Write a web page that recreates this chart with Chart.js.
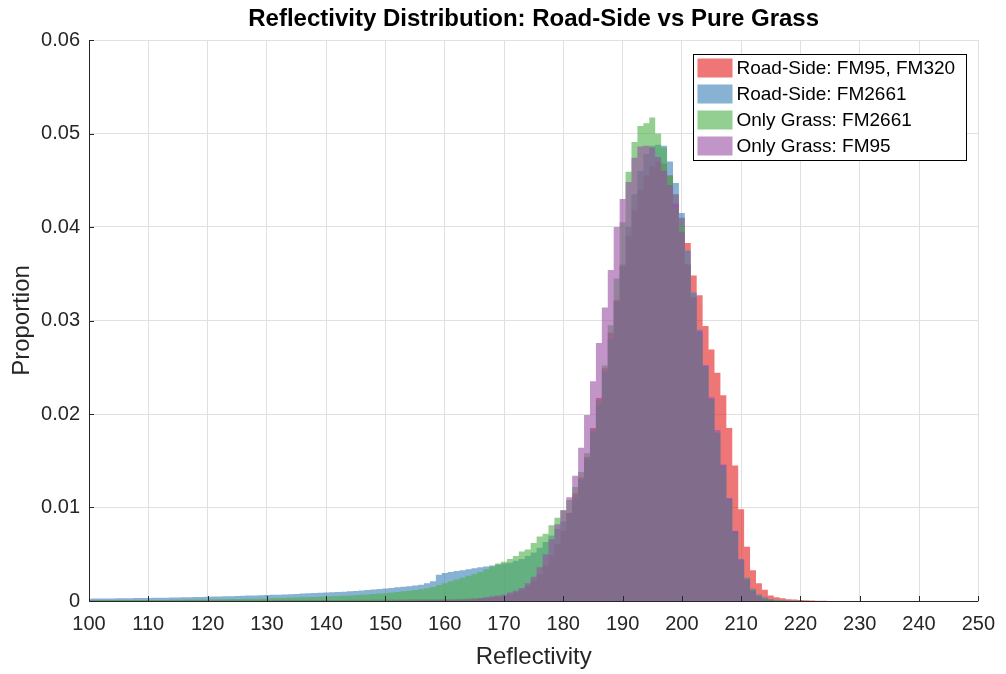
<!DOCTYPE html>
<html>
<head>
<meta charset="utf-8">
<title>Reflectivity Distribution</title>
<script src="https://cdn.jsdelivr.net/npm/chart.js@4.4.1/dist/chart.umd.min.js"></script>
<style>
  html, body { margin: 0; padding: 0; background: #fff; }
  #wrap { width: 1006px; height: 674px; position: relative; }
</style>
</head>
<body>
<div id="wrap"><canvas id="chart"></canvas></div>
<script>
// histogram bins are 1 unit wide, first bin centred on 100
const binStart = 100;

const roadSideFM95FM320 = [
  0.00005, 0.00005, 0.00005, 0.00005, 0.00005, 0.00005, 0.00005, 0.00005, 0.00005, 0.00005,
  0.00006, 0.00006, 0.00006, 0.00006, 0.00006, 0.00006, 0.00007, 0.00007, 0.00007, 0.00007,
  0.00007, 0.00007, 0.00008, 0.00008, 0.00008, 0.00008, 0.00008, 0.00009, 0.00009, 0.00009,
  0.00009, 0.00009, 0.0001, 0.0001, 0.0001, 0.0001, 0.0001, 0.0001, 0.0001, 0.0001,
  0.00011, 0.00011, 0.00012, 0.00012, 0.00013, 0.00013, 0.00014, 0.00014, 0.00015, 0.00015,
  0.00016, 0.00016, 0.00017, 0.00017, 0.00018, 0.00018, 0.00019, 0.00019, 0.0002, 0.0002,
  0.00021, 0.00022, 0.00023, 0.00025, 0.00027, 0.00029, 0.00031, 0.00034, 0.00038, 0.00042,
  0.0005, 0.0007, 0.0009, 0.0012, 0.0016, 0.0022, 0.0029, 0.0038, 0.0049, 0.0061,
  0.0075, 0.0094, 0.0115, 0.0132, 0.0154, 0.0185, 0.0217, 0.0249, 0.0287, 0.0322,
  0.0358, 0.0390, 0.0418, 0.0440, 0.0455, 0.0465, 0.0470, 0.0468, 0.0455, 0.0435,
  0.0410, 0.0383, 0.0348, 0.0327, 0.0294, 0.0269, 0.0244, 0.0220, 0.0185, 0.0145,
  0.0098, 0.0058, 0.0033, 0.0019, 0.0012, 0.0006, 0.0004, 0.0003, 0.0002, 0.00015,
  0.0001, 0.00007, 0.00005, 0.00003, 0.00002, 0.00001
];

const roadSideFM2661 = [
  0.00025, 0.00026, 0.00026, 0.00027, 0.00028, 0.00029, 0.0003, 0.0003, 0.00031, 0.00032,
  0.00033, 0.00034, 0.00035, 0.00036, 0.00037, 0.00038, 0.0004, 0.00041, 0.00042, 0.00044,
  0.00045, 0.00047, 0.00049, 0.0005, 0.00052, 0.00054, 0.00056, 0.00058, 0.0006, 0.00062,
  0.00064, 0.00066, 0.00068, 0.0007, 0.00073, 0.00076, 0.00079, 0.00082, 0.00085, 0.00088,
  0.00091, 0.00094, 0.00097, 0.001, 0.00104, 0.00108, 0.00112, 0.00117, 0.00122, 0.00128,
  0.00134, 0.0014, 0.00146, 0.00152, 0.00158, 0.00165, 0.00175, 0.0019, 0.0021, 0.0028,
  0.0030, 0.0031, 0.0032, 0.0033, 0.0034, 0.0035, 0.0036, 0.0037, 0.0038, 0.0039,
  0.0040, 0.0041, 0.0043, 0.0045, 0.0048, 0.0052, 0.0057, 0.0063, 0.0070, 0.0077,
  0.0085, 0.0094, 0.0110, 0.0130, 0.0152, 0.0180, 0.0210, 0.0245, 0.0280, 0.0320,
  0.0360, 0.0400, 0.0435, 0.0460, 0.0478, 0.0487, 0.0488, 0.0487, 0.0470, 0.0447,
  0.0415, 0.0375, 0.0330, 0.0290, 0.0252, 0.0216, 0.0180, 0.0145, 0.0110, 0.0075,
  0.0045, 0.0025, 0.0013, 0.0007, 0.0004, 0.0002, 0.00012, 0.00008, 0.00005, 0.00003,
  0.00002, 0.00001, 0, 0, 0, 0
];

const grassFM2661 = [
  0.0001, 0.0001, 0.0001, 0.0001, 0.0001, 0.0001, 0.0001, 0.0001, 0.0001, 0.0001,
  0.00011, 0.00011, 0.00012, 0.00012, 0.00013, 0.00013, 0.00014, 0.00015, 0.00015, 0.00016,
  0.00017, 0.00018, 0.00019, 0.0002, 0.00021, 0.00022, 0.00023, 0.00024, 0.00025, 0.00026,
  0.00028, 0.0003, 0.00031, 0.00033, 0.00035, 0.00037, 0.00039, 0.00041, 0.00043, 0.00045,
  0.00048, 0.0005, 0.00053, 0.00056, 0.00059, 0.00062, 0.00066, 0.0007, 0.00074, 0.00079,
  0.00084, 0.0009, 0.00096, 0.00103, 0.0011, 0.00118, 0.00127, 0.00137, 0.0015, 0.0017,
  0.0019, 0.0021, 0.0023, 0.0025, 0.0027, 0.0029, 0.0031, 0.0034, 0.0037, 0.0040,
  0.0042, 0.0045, 0.0048, 0.0053, 0.0055, 0.0062, 0.0069, 0.0072, 0.0081, 0.0089,
  0.0097, 0.0108, 0.0122, 0.0138, 0.0158, 0.0183, 0.0215, 0.0252, 0.0295, 0.0345,
  0.0405, 0.0459, 0.0491, 0.0508, 0.0511, 0.0517, 0.0500, 0.0485, 0.0455, 0.0420,
  0.0400, 0.0360, 0.0325, 0.0285, 0.0250, 0.0215, 0.0180, 0.0142, 0.0107, 0.0072,
  0.0042, 0.0024, 0.0012, 0.0006, 0.0003, 0.00015, 0.0001, 0.00005, 0.00003, 0.00002,
  0.00001, 0, 0, 0, 0, 0
];

const grassFM95 = [
  0.00002, 0.00002, 0.00002, 0.00002, 0.00002, 0.00002, 0.00002, 0.00002, 0.00002, 0.00002,
  0.00002, 0.00002, 0.00002, 0.00002, 0.00002, 0.00002, 0.00002, 0.00002, 0.00002, 0.00002,
  0.00002, 0.00002, 0.00002, 0.00002, 0.00002, 0.00002, 0.00002, 0.00002, 0.00002, 0.00002,
  0.00002, 0.00002, 0.00002, 0.00002, 0.00002, 0.00002, 0.00002, 0.00002, 0.00002, 0.00002,
  0.00002, 0.00002, 0.00002, 0.00002, 0.00002, 0.00002, 0.00002, 0.00002, 0.00002, 0.00002,
  0.00004, 0.00004, 0.00005, 0.00005, 0.00006, 0.00006, 0.00007, 0.00008, 0.00009, 0.0001,
  0.0001, 0.00011, 0.00012, 0.00013, 0.00015, 0.0002, 0.0003, 0.0004, 0.0005, 0.0006,
  0.0007, 0.0009, 0.0011, 0.0014, 0.0019, 0.0026, 0.0036, 0.0050, 0.0066, 0.0082,
  0.0097, 0.0111, 0.0134, 0.0164, 0.0199, 0.0235, 0.0276, 0.0314, 0.0354, 0.0400,
  0.0430, 0.0448, 0.0474, 0.0486, 0.0487, 0.0485, 0.0475, 0.0460, 0.0445, 0.0425,
  0.0395, 0.0360, 0.0325, 0.0288, 0.0252, 0.0218, 0.0183, 0.0146, 0.0110, 0.0075,
  0.0044, 0.0023, 0.0011, 0.0005, 0.0002, 0.0001, 0, 0, 0, 0,
  0, 0, 0, 0, 0, 0
];

const seriesLabels = ['Road-Side: FM95, FM320', 'Road-Side: FM2661', 'Only Grass: FM2661', 'Only Grass: FM95'];
const seriesColors = ['rgba(228,26,28,0.6)', 'rgba(55,126,184,0.6)', 'rgba(77,175,74,0.6)', 'rgba(152,78,163,0.6)'];
const seriesValues = [roadSideFM95FM320, roadSideFM2661, grassFM2661, grassFM95];

const chartTitle = 'Reflectivity Distribution: Road-Side vs Pure Grass';

const xMin = 100, xMax = 250, xStep = 10;
const yMin = 0, yMax = 0.06, yStep = 0.01;

const FONT = "'Liberation Sans', Arial, Helvetica, sans-serif";
const AXIS_COLOR = '#262626';

function toPoints(values) {
    return values.map((v, i) => ({ x: binStart + i, y: v }));
}

// later datasets sit on top, like successive histogram() calls with hold on
const datasets = seriesValues.map((values, i) => ({
    label: seriesLabels[i],
    data: toPoints(values),
    backgroundColor: seriesColors[i],
    borderColor: 'rgba(0,0,0,0)',
    borderWidth: 0,
    pointRadius: 0,
    stepped: 'middle',
    fill: 'origin',
    order: seriesValues.length - i,
}));

// title centred over the plot area rather than the whole canvas
const axesTitle = {
    id: 'axesTitle',
    afterDraw(chart) {
        const { ctx, chartArea } = chart;
        ctx.save();
        ctx.font = 'bold 24px ' + FONT;
        ctx.fillStyle = '#000';
        ctx.textAlign = 'center';
        ctx.textBaseline = 'middle';
        ctx.fillText(chartTitle, (chartArea.left + chartArea.right) / 2, 19);
        ctx.restore();
    }
};

// inward tick marks + axis lines redrawn over the filled bars
const axisTicks = {
    id: 'axisTicks',
    afterDatasetsDraw(chart) {
        const { ctx, chartArea, scales } = chart;
        const len = 5;
        ctx.save();
        ctx.strokeStyle = AXIS_COLOR;
        ctx.lineWidth = 1;
        ctx.beginPath();
        scales.x.ticks.forEach(t => {
            const px = Math.round(scales.x.getPixelForValue(t.value)) + 0.5;
            ctx.moveTo(px, chartArea.bottom);
            ctx.lineTo(px, chartArea.bottom - len);
        });
        scales.y.ticks.forEach(t => {
            const py = Math.round(scales.y.getPixelForValue(t.value)) + 0.5;
            ctx.moveTo(chartArea.left, py);
            ctx.lineTo(chartArea.left + len, py);
        });
        const b = Math.round(chartArea.bottom) + 0.5;
        const l = Math.round(chartArea.left) + 0.5;
        ctx.moveTo(l, chartArea.top);
        ctx.lineTo(l, b);
        ctx.lineTo(chartArea.right, b);
        ctx.stroke();
        ctx.restore();
    }
};

// boxed legend in the upper right corner of the plot
const boxLegend = {
    id: 'boxLegend',
    afterDraw(chart) {
        const { ctx, chartArea } = chart;
        const rowH = 26, patchW = 35, patchH = 19, pad = 4;
        const boxW = 273, boxH = 106;
        const x0 = Math.round(chartArea.right - 12 - boxW) + 0.5;
        const y0 = Math.round(chartArea.top + 14) + 0.5;
        ctx.save();
        ctx.fillStyle = '#fff';
        ctx.fillRect(x0, y0, boxW, boxH);
        ctx.strokeStyle = '#000';
        ctx.lineWidth = 1;
        ctx.strokeRect(x0, y0, boxW, boxH);
        ctx.font = '19px ' + FONT;
        ctx.textBaseline = 'middle';
        chart.data.datasets.forEach((ds, i) => {
            const top = y0 + pad + i * rowH;
            ctx.fillStyle = ds.backgroundColor;
            ctx.fillRect(x0 + pad, top, patchW, patchH);
            ctx.fillStyle = '#000';
            ctx.fillText(ds.label, x0 + pad + patchW + 4, top + patchH / 2 + 1);
        });
        ctx.restore();
    }
};

const config = {
    type: 'line',
    data: { datasets: datasets },
    options: {
        responsive: true,
        maintainAspectRatio: false,
        animation: false,
        layout: {
            padding: { top: 40, right: 27, bottom: 0, left: 0 }
        },
        scales: {
            x: {
                type: 'linear',
                min: xMin,
                max: xMax,
                afterFit: (scale) => { scale.height = 73; },
                ticks: {
                    stepSize: xStep,
                    padding: 11,
                    maxRotation: 0,
                    color: AXIS_COLOR,
                    font: { family: FONT, size: 20 },
                },
                grid: {
                    color: '#e0e0e0',
                    drawTicks: false,
                },
                border: { display: false },
                title: {
                    display: true,
                    text: 'Reflectivity',
                    color: AXIS_COLOR,
                    font: { family: FONT, size: 24 },
                    padding: { top: 0, bottom: 2 },
                },
            },
            y: {
                min: yMin,
                max: yMax,
                afterFit: (scale) => { scale.width = 89; },
                ticks: {
                    stepSize: yStep,
                    padding: 9,
                    color: AXIS_COLOR,
                    font: { family: FONT, size: 20 },
                    callback: (v) => (Math.abs(v) < 1e-9 ? '0' : v.toFixed(2)),
                },
                grid: {
                    color: '#e0e0e0',
                    drawTicks: false,
                },
                border: { display: false },
                title: {
                    display: true,
                    text: 'Proportion',
                    color: AXIS_COLOR,
                    font: { family: FONT, size: 24 },
                    padding: { top: 8, bottom: 0 },
                },
            },
        },
        plugins: {
            legend: { display: false },
            tooltip: { enabled: false },
            title: { display: false },
            filler: { propagate: false },
        },
    },
    plugins: [axesTitle, axisTicks, boxLegend],
};

new Chart(document.getElementById('chart').getContext('2d'), config);
</script>
</body>
</html>
